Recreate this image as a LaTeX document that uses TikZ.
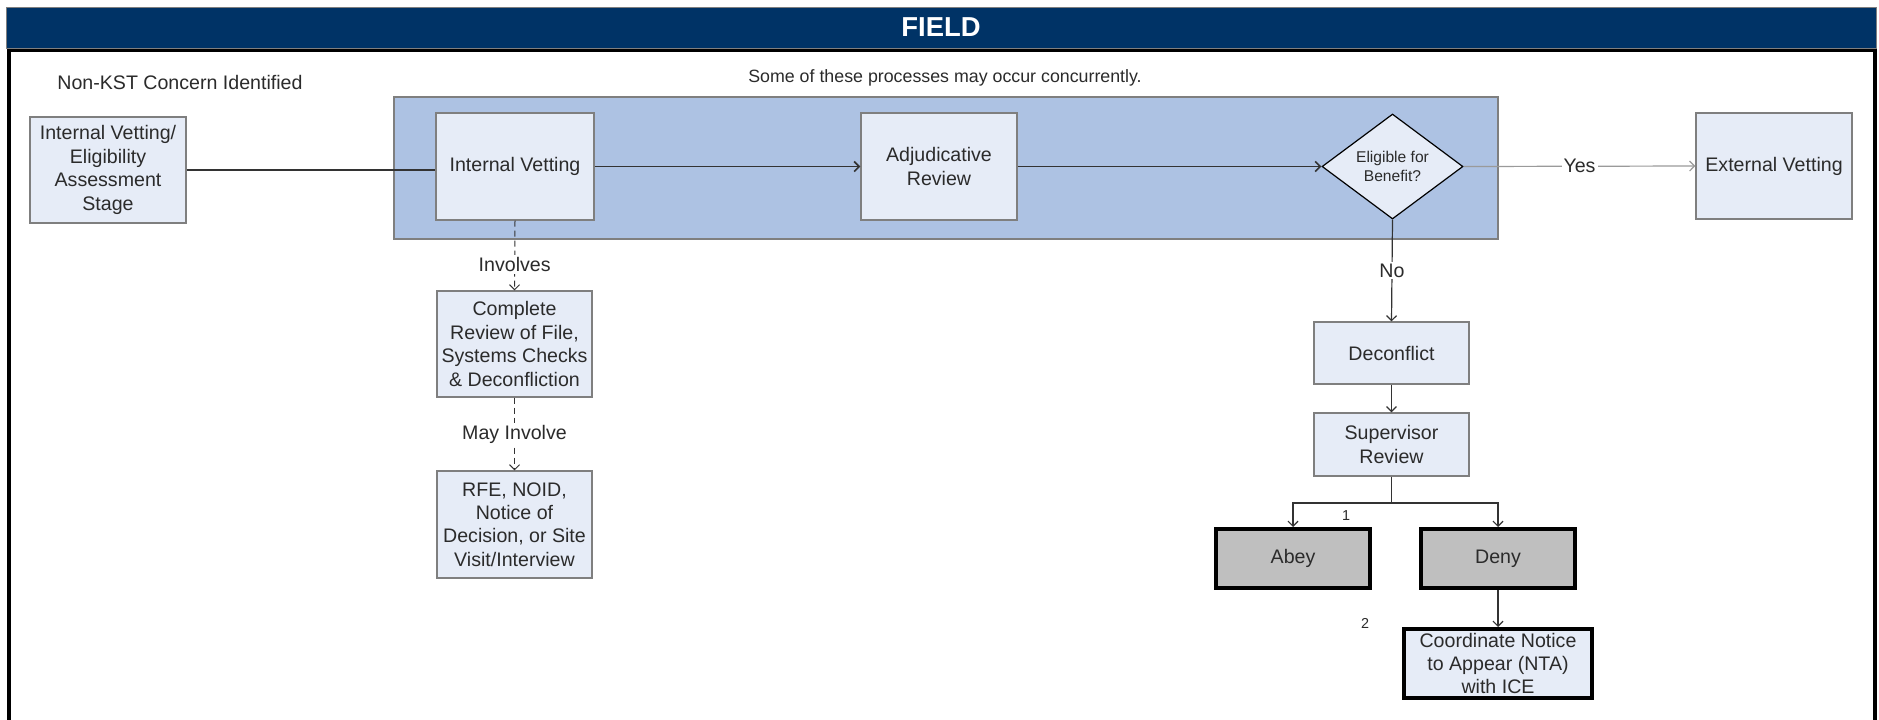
\documentclass[tikz,border=0pt]{standalone}
\usepackage{fontspec}
\setmainfont{Liberation Sans}
\usetikzlibrary{shapes.geometric,arrows.meta,calc}
\definecolor{navy}{HTML}{003366}
\definecolor{groupfill}{HTML}{ADC2E3}
\definecolor{boxfill}{HTML}{E6ECF7}
\definecolor{graybox}{HTML}{BFBFBF}
\definecolor{bordergray}{HTML}{7F7F7F}
\definecolor{textgray}{HTML}{2B2B2B}
\definecolor{linegray}{HTML}{333333}
\definecolor{lightline}{HTML}{9A9A9A}
\tikzset{
  box/.style={draw=bordergray, line width=0.6pt, fill=boxfill, inner sep=0pt, align=center,
    font=\fontsize{9.8}{11.7}\selectfont, text=textgray},
  thickbox/.style={draw=black, line width=2pt, inner sep=0pt, align=center,
    font=\fontsize{9.8}{11.7}\selectfont, text=textgray},
  conn/.style={draw=linegray, line width=0.85pt, -{Straight Barb[length=2.5pt,width=5pt]}},
  thinconn/.style={draw=linegray, line width=0.6pt, -{Straight Barb[length=2.5pt,width=5pt]}},
  plainconn/.style={draw=linegray, line width=0.85pt},
  lightconn/.style={draw=lightline, line width=0.6pt, -{Straight Barb[length=2.5pt,width=5pt]}},
  dashconn/.style={draw=linegray, line width=0.5pt, dash pattern=on 3pt off 2pt, -{Straight Barb[length=2.5pt,width=5pt]}},
  lbl/.style={font=\fontsize{9.8}{11.7}\selectfont, text=textgray, fill=white, inner sep=1pt},
  plaintext/.style={font=\fontsize{9.8}{11.7}\selectfont, text=textgray, inner sep=0pt},
  smalltext/.style={font=\fontsize{7.2}{8}\selectfont, text=textgray, inner sep=0pt}
}
\begin{document}
\begin{tikzpicture}[x=0.5pt,y=-0.5pt]
\clip (0,0) rectangle (1879,719);
\fill[white] (0,0) rectangle (1879,719);

% outer frame and title bar
\draw[black, line width=2pt] (9,760) -- (9,50) -- (1875,50) -- (1875,760);
\node[draw=bordergray, line width=0.4pt, fill=navy, minimum width=935pt, minimum height=20.5pt, inner sep=0pt,
  font=\fontsize{13.7}{15}\selectfont\bfseries, text=white] (title) at (941,27.5) {FIELD};

% texts
\node[plaintext, anchor=west] (concern) at (57,82) {Non-KST Concern Identified};
\node[plaintext, font=\fontsize{8.9}{10.5}\selectfont] (conc) at (945,78) {Some of these processes may occur concurrently.};

% group
\node[draw=bordergray, line width=0.6pt, fill=groupfill, minimum width=552pt, minimum height=71pt, inner sep=0pt] (grp) at (946,168) {};

% boxes
\node[box, minimum width=78pt, minimum height=53pt] (left) at (108,170) {Internal Vetting/\\Eligibility\\Assessment\\Stage};
\node[box, minimum width=79pt, minimum height=53.5pt] (iv) at (515,166.5) {Internal Vetting};
\node[box, minimum width=78pt, minimum height=53.5pt] (adj) at (939,166.5) {Adjudicative\\Review};
\node[diamond, draw=black, line width=0.6pt, fill=boxfill, minimum width=70.5pt, minimum height=52.5pt, inner sep=0pt,
  align=center, font=\fontsize{7.8}{9.6}\selectfont, text=textgray] (dia) at (1392.5,166.5) {Eligible for\\Benefit?};
\node[box, minimum width=78pt, minimum height=53pt] (ext) at (1774,166) {External Vetting};

\node[box, minimum width=77.5pt, minimum height=53pt] (crf) at (514.5,344) {Complete\\Review of File,\\Systems Checks\\\& Deconfliction};
\node[box, minimum width=77.5pt, minimum height=53.5pt] (rfe) at (514.5,524.5) {RFE, NOID,\\Notice of\\Decision, or Site\\Visit/Interview};

\node[box, minimum width=77.5pt, minimum height=31pt] (dec) at (1391.5,353) {Deconflict};
\node[box, minimum width=77.5pt, minimum height=31.5pt] (sup) at (1391.5,444.5) {Supervisor\\Review};
\node[thickbox, fill=graybox, minimum width=77pt, minimum height=29.5pt] (abey) at (1293,558.5) {Abey};
\node[thickbox, fill=graybox, minimum width=77pt, minimum height=29.5pt] (deny) at (1498,558.5) {Deny};
\node[thickbox, fill=boxfill, minimum width=94pt, minimum height=34.5pt] (nta) at (1498,663.5) {Coordinate Notice\\to Appear (NTA)\\with ICE};

\node[smalltext] (one) at (1346,516) {1};
\node[smalltext] (two) at (1365,623) {2};

% connectors
\draw[plainconn] (left.east) -- (left.east -| iv.west);
\draw[conn] (iv.east) -- (adj.west);
\draw[conn] (adj.east) -- (dia.west);
\draw[lightconn] (dia.east) -- node[lbl, text=textgray] {Yes} (ext.west);
\draw[thinconn] (dia.south) -- node[lbl] {No} (dec.north);
\draw[dashconn] (iv.south) -- node[lbl, pos=0.63] {Involves} (crf.north);
\draw[dashconn] (crf.south) -- node[lbl] {May Involve} (rfe.north);
\draw[thinconn] (dec.south) -- (sup.north);
\coordinate (br) at (1391.5,503);
\draw[draw=linegray, line width=0.6pt] (sup.south) -- (br);
\draw[thinconn] (br) -| (abey.north);
\draw[thinconn] (br) -| (deny.north);
\draw[thinconn] (deny.south) -- (nta.north);
\end{tikzpicture}
\end{document}
